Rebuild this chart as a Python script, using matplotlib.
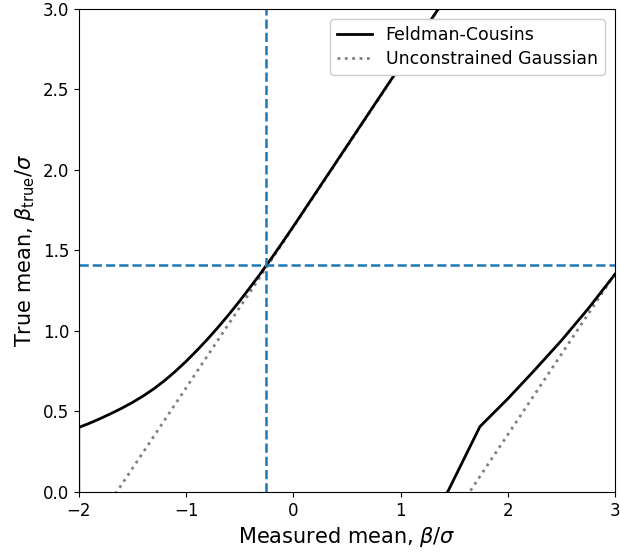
import matplotlib
matplotlib.use('Agg')
import matplotlib.pyplot as plt
import numpy as np

# Feldman-Cousins 90% CL belt, upper edge (x0 -> upper mu)
upper_x = [-2.0, -2.0, -1.9, -1.8, -1.7, -1.6, -1.5, -1.4, -1.3, -1.2, -1.1,
           -1.0, -0.9, -0.8, -0.7, -0.6, -0.5, -0.4, -0.3, -0.2, -0.1, 0.0,
           0.5, 1.0, 1.4]
upper_y = [0.0, 0.400, 0.426, 0.455, 0.486, 0.519, 0.555, 0.595, 0.640,
           0.691, 0.748, 0.810, 0.877, 0.948, 1.023, 1.102, 1.185, 1.272,
           1.361, 1.454, 1.550, 1.648, 2.148, 2.648, 3.048]

# lower edge
lower_x = [1.44, 1.74, 2.0, 2.25, 2.5, 2.75, 3.0]
lower_y = [0.0, 0.405, 0.578, 0.756, 0.940, 1.138, 1.352]

# unconstrained Gaussian 90% interval: x -/+ 1.645
gauss_x = [-2.0, 3.0]
gauss_half = 1.645

x_obs = -0.25
mu_obs = 1.41

fig, ax = plt.subplots(figsize=(6.2, 5.57), dpi=100)
fig.subplots_adjust(left=0.127, right=0.992, top=0.984, bottom=0.117)

ax.plot(upper_x, upper_y, 'k-', lw=2, label='Feldman-Cousins')
ax.plot(lower_x, lower_y, 'k-', lw=2)
gx = np.array(gauss_x)
ax.plot(gx, gx + gauss_half, ':', color='gray', lw=2, label='Unconstrained Gaussian', zorder=1)
ax.plot(gx, gx - gauss_half, ':', color='gray', lw=2, zorder=1)

ax.axvline(x_obs, color='#1f77b4', ls='--', lw=1.8)
ax.axhline(mu_obs, color='#1f77b4', ls='--', lw=1.8)

ax.set_xlim(-2, 3)
ax.set_ylim(0, 3)
ax.set_xlabel(r'Measured mean, $\beta/\sigma$', fontsize=15)
ax.set_ylabel(r'True mean, $\beta_{\rm true}/\sigma$', fontsize=15)
ax.tick_params(labelsize=12)
ax.legend(loc='upper right', fontsize=12.5, framealpha=1, labelspacing=0.35,
          borderaxespad=0.6)

fig.savefig('out.png')
